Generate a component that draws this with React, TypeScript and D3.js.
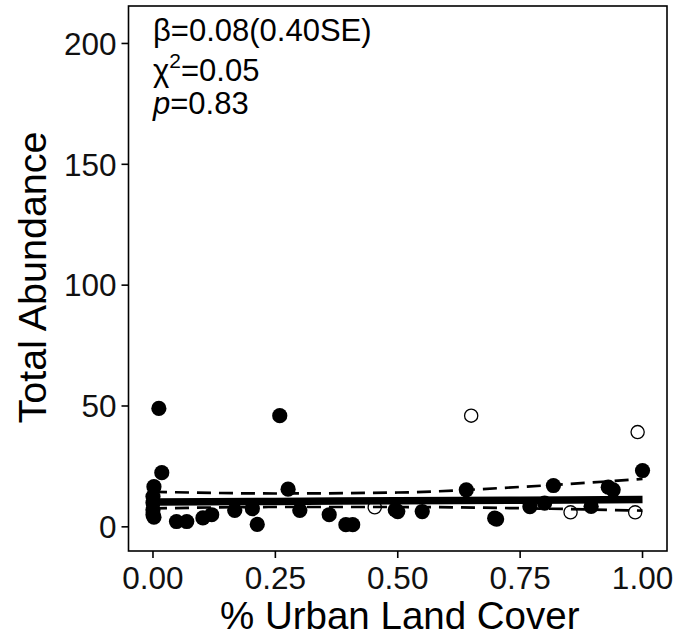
import React from "react";
import * as d3 from "d3";

const W = 679;
const H = 642;

const xTicks = [0, 0.25, 0.5, 0.75, 1.0];
const xTickLabels = ["0.00", "0.25", "0.50", "0.75", "1.00"];
const yTicks = [0, 50, 100, 150, 200];

// filled points (urban cover, abundance)
const filledX = [0.012, 0.018, 0.002, 0.0, 0.0, 0.0, 0.0, 0.002, 0.048, 0.069, 0.102, 0.12, 0.167, 0.203, 0.213, 0.259, 0.276, 0.3, 0.36, 0.394, 0.408, 0.495, 0.5, 0.55, 0.64, 0.698, 0.702, 0.77, 0.8, 0.818, 0.895, 0.93, 0.94, 1.0];
const filledY = [49, 22.4, 16.6, 12.5, 10, 7, 5, 4, 2.2, 2.2, 3.7, 5, 6.8, 7.5, 1.0, 46, 15.6, 6.8, 5, 0.9, 0.9, 7, 6.3, 6.3, 15.3, 3.6, 3.2, 8.4, 9.8, 17.1, 8.5, 16.4, 15.3, 23.3];

// open points
const openX = [0.65, 0.99, 0.453, 0.853, 0.985];
const openY = [46, 39.2, 8.1, 6, 6];

// fitted line and confidence band
const fitX = [0, 0.25, 0.5, 0.75, 1.0];
const fitY = [10.3, 10.5, 10.8, 11.0, 11.3];
const upperY = [14.5, 13.8, 14.2, 16.5, 19.8];
const lowerY = [7.6, 8.2, 8.2, 7.7, 6.7];

const FONT = "'Liberation Sans', Arial, sans-serif";

export default function App() {
  const x = d3.scaleLinear().domain([-0.05, 1.05]).range([128.5, 667]);
  const y = d3.scaleLinear().domain([-10, 215.5]).range([551, 6]);
  const x0 = x.range()[0];
  const x1 = x.range()[1];
  const y0 = y.range()[0];
  const y1 = y.range()[1];

  const line = d3
    .line<number>()
    .x((_, i) => x(fitX[i]))
    .y((d) => y(d))
    .curve(d3.curveMonotoneX);

  return (
    <svg
      width={W}
      height={H}
      style={{ position: "absolute", left: 0, top: 0, background: "#fff" }}
      fontFamily={FONT}
    >
      <rect x={0} y={0} width={W} height={H} fill="#fff" />
      {/* points */}
      {filledX.map((d, i) => (
        <circle key={"f" + i} cx={x(d)} cy={y(filledY[i])} r={7.6} fill="#000" />
      ))}
      {openX.map((d, i) => (
        <circle
          key={"o" + i}
          cx={x(d)}
          cy={y(openY[i])}
          r={6.6}
          fill="#fff"
          stroke="#000"
          strokeWidth={1.3}
        />
      ))}
      {/* lines */}
      <path d={line(upperY) || ""} fill="none" stroke="#000" strokeWidth={2.7} strokeDasharray="14,8" />
      <path d={line(lowerY) || ""} fill="none" stroke="#000" strokeWidth={2.7} strokeDasharray="14,8" />
      <path d={line(fitY) || ""} fill="none" stroke="#000" strokeWidth={7.5} />

      {/* panel border */}
      <rect x={x0} y={y1} width={x1 - x0} height={y0 - y1} fill="none" stroke="#000" strokeWidth={1.6} />

      {/* y axis */}
      {yTicks.map((t) => (
        <g key={"y" + t}>
          <line x1={x0 - 7} x2={x0} y1={y(t)} y2={y(t)} stroke="#000" strokeWidth={1.6} />
          <text x={x0 - 12} y={y(t)} dy="0.36em" textAnchor="end" fontSize={31.5} fill="#111">
            {t}
          </text>
        </g>
      ))}
      {/* x axis */}
      {xTicks.map((t, i) => (
        <g key={"x" + t}>
          <line x1={x(t)} x2={x(t)} y1={y0} y2={y0 + 7} stroke="#000" strokeWidth={1.6} />
          <text x={x(t)} y={y0 + 38} textAnchor="middle" fontSize={31.5} fill="#111">
            {xTickLabels[i]}
          </text>
        </g>
      ))}

      {/* axis titles */}
      <text x={(x0 + x1) / 2 + 2} y={629} textAnchor="middle" fontSize={38.5} fill="#000">
        % Urban Land Cover
      </text>
      <text
        transform={`translate(46,${(y0 + y1) / 2 - 1}) rotate(-90)`}
        textAnchor="middle"
        fontSize={39.5}
        fill="#000"
      >
        Total Abundance
      </text>

      {/* annotation */}
      <text x={153} y={41} fontSize={31} fill="#000">
        β=0.08(0.40SE)
      </text>
      <text x={153} y={81} fontSize={31} fill="#000">
        χ<tspan dy={-13} fontSize={21}>2</tspan>
        <tspan dy={13}>=0.05</tspan>
      </text>
      <text x={153} y={114} fontSize={31} fill="#000">
        <tspan fontStyle="italic">p</tspan>=0.83
      </text>
    </svg>
  );
}
